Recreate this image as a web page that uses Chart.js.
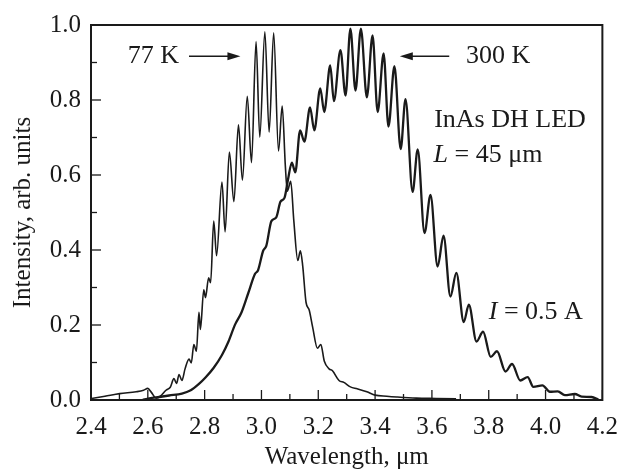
<!DOCTYPE html>
<html>
<head>
<meta charset="utf-8">
<script src="https://cdn.jsdelivr.net/npm/chart.js@4/dist/chart.umd.min.js"></script>
<style>
  html, body { margin: 0; padding: 0; background: #fff; }
  #wrap { width: 630px; height: 473px; }
</style>
</head>
<body>
<div id="wrap"><canvas id="chart" width="630" height="473"></canvas></div>
<script>
// 77 K spectrum (wavelength in um, normalized intensity)
const wl77 = [2.402, 2.449, 2.501, 2.559, 2.585, 2.600, 2.612, 2.629, 2.644, 2.664, 2.679, 2.692, 2.701, 2.710, 2.720,
  2.731, 2.745, 2.753, 2.762, 2.771, 2.780, 2.785, 2.797, 2.803, 2.814, 2.821, 2.832, 2.842, 2.861, 2.872,
  2.887, 2.903, 2.919, 2.933, 2.950, 2.965, 2.981, 2.994, 3.012, 3.027, 3.043, 3.060, 3.073, 3.084, 3.091,
  3.103, 3.114, 3.128, 3.137, 3.145, 3.157, 3.168, 3.180, 3.197, 3.209, 3.221, 3.238, 3.250, 3.273, 3.290,
  3.313, 3.337, 3.371, 3.400, 3.441, 3.476, 3.545, 3.615, 3.685];
const int77 = [0.004, 0.010, 0.017, 0.022, 0.026, 0.031, 0.021, 0.005, 0.010, 0.026, 0.034, 0.057, 0.044, 0.068, 0.052,
  0.083, 0.109, 0.099, 0.148, 0.130, 0.234, 0.188, 0.294, 0.273, 0.326, 0.313, 0.477, 0.385, 0.581, 0.448,
  0.661, 0.529, 0.734, 0.586, 0.810, 0.633, 0.956, 0.701, 0.982, 0.714, 0.979, 0.664, 0.784, 0.625, 0.557,
  0.583, 0.477, 0.372, 0.398, 0.359, 0.260, 0.240, 0.195, 0.138, 0.148, 0.104, 0.083, 0.078, 0.052, 0.047,
  0.035, 0.030, 0.022, 0.013, 0.010, 0.008, 0.005, 0.004, 0.003];

// 300 K spectrum
const wl300 = [2.581, 2.605, 2.640, 2.675, 2.720, 2.751, 2.780, 2.803, 2.832, 2.861, 2.884, 2.907, 2.930, 2.954, 2.977,
  2.988, 3.006, 3.017, 3.035, 3.052, 3.067, 3.081, 3.093, 3.107, 3.119, 3.136, 3.151, 3.171, 3.186, 3.207,
  3.221, 3.242, 3.255, 3.278, 3.296, 3.313, 3.331, 3.350, 3.371, 3.391, 3.409, 3.430, 3.447, 3.468, 3.490,
  3.507, 3.532, 3.550, 3.574, 3.595, 3.620, 3.641, 3.665, 3.686, 3.712, 3.730, 3.757, 3.780, 3.807, 3.829,
  3.859, 3.882, 3.911, 3.937, 3.957, 3.989, 4.015, 4.043, 4.068, 4.103, 4.127, 4.162, 4.186];
const int300 = [0.000, 0.004, 0.008, 0.012, 0.017, 0.026, 0.043, 0.060, 0.086, 0.120, 0.156, 0.201, 0.234, 0.286, 0.336,
  0.346, 0.398, 0.411, 0.477, 0.487, 0.529, 0.539, 0.586, 0.633, 0.607, 0.719, 0.689, 0.780, 0.719, 0.831,
  0.768, 0.892, 0.797, 0.933, 0.812, 0.990, 0.825, 0.990, 0.807, 0.972, 0.768, 0.924, 0.729, 0.890, 0.669,
  0.802, 0.555, 0.668, 0.445, 0.547, 0.356, 0.438, 0.276, 0.339, 0.208, 0.254, 0.156, 0.182, 0.115, 0.130,
  0.076, 0.096, 0.052, 0.061, 0.035, 0.039, 0.022, 0.023, 0.013, 0.016, 0.009, 0.008, 0.001];

const xRange = [2.4, 4.2];
const yRange = [0, 1.0];
const tickStep = 0.1;

const INK = '#1a1a1a';
const SERIF = "'Liberation Serif', 'Times New Roman', serif";

function toPoints(xs, ys) {
    return xs.map((x, i) => ({ x: x, y: ys[i] }));
}

function isMajor(v) {
    return Math.round(v * 10) % 2 === 0;
}

// frame + inward ticks
const framePlugin = {
    id: 'frame',
    afterDatasetsDraw(chart) {
        const { ctx, chartArea: a } = chart;
        const xs = chart.scales.x, ys = chart.scales.y;
        ctx.save();
        ctx.strokeStyle = INK;
        ctx.lineWidth = 1.3;
        xs.ticks.forEach(t => {
            const p = xs.getPixelForValue(t.value);
            const len = isMajor(t.value) ? 10 : 6;
            ctx.beginPath();
            ctx.moveTo(p, a.bottom);
            ctx.lineTo(p, a.bottom - len);
            ctx.stroke();
        });
        ys.ticks.forEach(t => {
            const p = ys.getPixelForValue(t.value);
            const len = isMajor(t.value) ? 10 : 6;
            ctx.beginPath();
            ctx.moveTo(a.left, p);
            ctx.lineTo(a.left + len, p);
            ctx.stroke();
        });
        ctx.lineWidth = 2;
        ctx.strokeRect(a.left, a.top, a.right - a.left, a.bottom - a.top);
        ctx.restore();
    }
};

// text labels and arrows inside the plot
const notesPlugin = {
    id: 'notes',
    afterDraw(chart) {
        const { ctx } = chart;
        const xs = chart.scales.x, ys = chart.scales.y;
        const px = v => xs.getPixelForValue(v);
        const py = v => ys.getPixelForValue(v);

        function run(parts, x, y) {
            let cx = px(x);
            parts.forEach(([txt, italic]) => {
                ctx.font = (italic ? 'italic ' : '') + '26px ' + SERIF;
                ctx.fillText(txt, cx, py(y));
                cx += ctx.measureText(txt).width;
            });
        }

        function arrow(x1, x2, y) {
            const a = px(x1), b = px(x2), c = py(y);
            const dir = b > a ? 1 : -1;
            ctx.beginPath();
            ctx.moveTo(a, c);
            ctx.lineTo(b - dir * 10, c);
            ctx.stroke();
            ctx.beginPath();
            ctx.moveTo(b, c);
            ctx.lineTo(b - dir * 13, c - 4);
            ctx.lineTo(b - dir * 13, c + 4);
            ctx.closePath();
            ctx.fill();
        }

        ctx.save();
        ctx.fillStyle = INK;
        ctx.strokeStyle = INK;
        ctx.lineWidth = 1.5;
        ctx.textBaseline = 'middle';
        ctx.textAlign = 'left';

        run([['77 K', false]], 2.529, 0.917);
        arrow(2.745, 2.926, 0.917);
        run([['300 K', false]], 3.720, 0.917);
        arrow(3.661, 3.487, 0.917);

        run([['InAs DH LED', false]], 3.608, 0.745);
        run([['L', true], [' = 45 \u03bcm', false]], 3.606, 0.654);
        run([['I', true], [' = 0.5 A', false]], 3.800, 0.234);
        ctx.restore();
    }
};

Chart.defaults.font.family = SERIF;
Chart.defaults.color = INK;

new Chart(document.getElementById('chart'), {
    type: 'line',
    data: {
        datasets: [
            {
                label: '77 K',
                data: toPoints(wl77, int77),
                borderColor: INK,
                borderWidth: 1.6,
                pointRadius: 0,
                cubicInterpolationMode: 'monotone',
                fill: false
            },
            {
                label: '300 K',
                data: toPoints(wl300, int300),
                borderColor: INK,
                borderWidth: 2.3,
                pointRadius: 0,
                cubicInterpolationMode: 'monotone',
                fill: false
            }
        ]
    },
    options: {
        responsive: false,
        animation: false,
        layout: { padding: { left: 0, right: 22, top: 16, bottom: 0 } },
        plugins: {
            legend: { display: false },
            tooltip: { enabled: false }
        },
        scales: {
            x: {
                type: 'linear',
                min: xRange[0],
                max: xRange[1],
                grid: { display: false, drawTicks: false },
                border: { display: false },
                ticks: {
                    stepSize: tickStep,
                    autoSkip: false,
                    maxRotation: 0,
                    padding: 12,
                    font: { size: 25 },
                    callback: v => isMajor(v) ? v.toFixed(1) : ''
                },
                title: {
                    display: true,
                    text: 'Wavelength, \u03bcm',
                    font: { size: 25 },
                    padding: { top: 0, bottom: 1 }
                },
                afterFit: s => { s.height = 73; }
            },
            y: {
                min: yRange[0],
                max: yRange[1],
                grid: { display: false, drawTicks: false },
                border: { display: false },
                ticks: {
                    stepSize: tickStep,
                    autoSkip: false,
                    padding: 10,
                    font: { size: 25 },
                    callback: v => isMajor(v) ? v.toFixed(1) : ''
                },
                title: {
                    display: true,
                    text: 'Intensity, arb. units',
                    font: { size: 25 },
                    padding: { top: 8, bottom: 0 }
                },
                afterFit: s => { s.width = 91; }
            }
        }
    },
    plugins: [framePlugin, notesPlugin]
});
</script>
</body>
</html>
